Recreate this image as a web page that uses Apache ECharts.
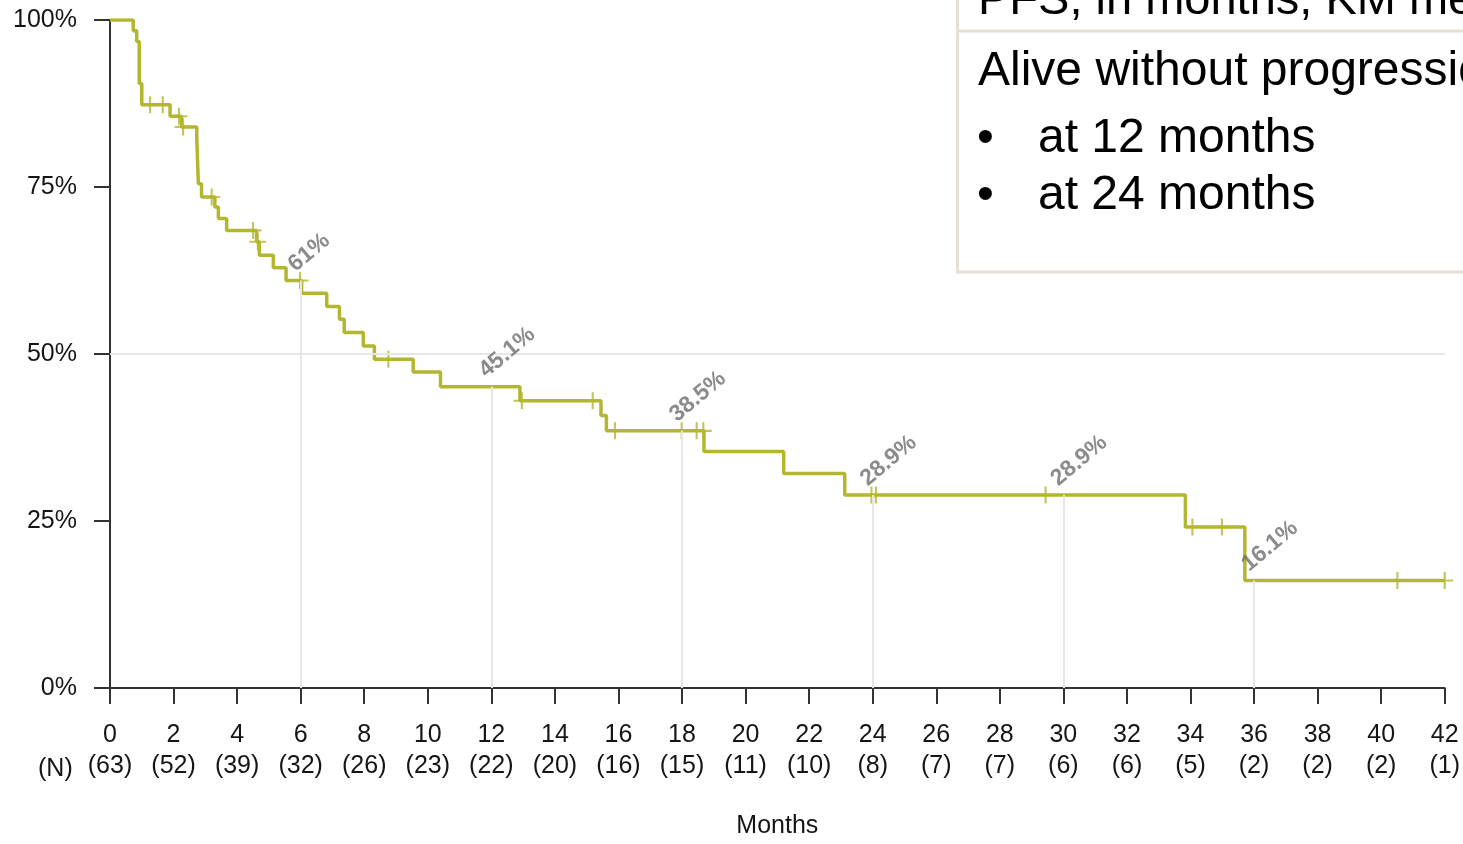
<!DOCTYPE html>
<html>
<head>
<meta charset="utf-8">
<script src="https://cdn.jsdelivr.net/npm/echarts@6/dist/echarts.min.js"></script>
<style>
  html, body { margin: 0; padding: 0; background: #fff; }
  #chart { width: 1463px; height: 844px; }
</style>
</head>
<body>
<div id="chart"></div>
<script>
// Kaplan–Meier estimate of progression-free survival (% alive without progression)
// Event times in months and the survival level right after each event
const eventTimes = [0, 0.73, 0.84, 0.92, 1.0, 1.89, 2.25, 2.73, 2.78, 2.88,
  3.3, 3.41, 3.67, 4.61, 4.70, 5.14, 5.54, 6.03, 6.82, 7.22,
  7.37, 7.97, 8.32, 9.54, 10.40, 12.90, 15.45, 15.62, 18.69, 21.20,
  23.12, 33.84, 35.71, 42];
const survival = [100, 98.4, 96.8, 90.5, 87.3, 85.6, 84.0, 82.2, 75.5, 73.5,
  72.0, 70.3, 68.5, 66.8, 64.8, 62.9, 61.0, 59.1, 57.1, 55.2,
  53.2, 51.2, 49.2, 47.3, 45.1, 43.0, 40.8, 38.5, 35.4, 32.1,
  28.9, 24.1, 16.1, 16.1];

// Censored observations (tick marks on the curve)
const censorTimes = [1.26, 1.66, 2.17, 2.30, 3.20, 4.50, 4.65, 5.98, 8.76, 12.96,
  15.19, 15.89, 17.99, 18.46, 18.67, 23.96, 24.10, 29.44, 34.06, 34.99, 40.51, 42.0];
const censorValues = [87.3, 87.3, 85.6, 84.0, 73.5, 68.5, 66.8, 61.0, 49.2, 43.0,
  43.0, 38.5, 38.5, 38.5, 38.5, 28.9, 28.9, 28.9, 24.1, 24.1, 16.1, 16.1];

// Landmark estimates
const landmarkMonths = [6, 12, 18, 24, 30, 36];
const landmarkValues = [61, 45.1, 38.5, 28.9, 28.9, 16.1];

// Number at risk at each x tick (0, 2, ..., 42)
const atRisk = [63, 52, 39, 32, 26, 23, 22, 20, 16, 15, 11, 10, 8, 7, 7, 6, 6, 5, 2, 2, 2, 1];

const FONT = '"Liberation Sans", Arial, sans-serif';
const OLIVE = '#b3b630';
const AXIS = '#333333';
const TEXT = '#151515';
const GUIDE = '#e6e6e6';
const BOX = '#e6e0d4';

const curve = eventTimes.map((t, i) => [t, survival[i]]);
const censors = censorTimes.map((t, i) => [t, censorValues[i]]);
const landmarks = landmarkMonths.map((m, i) => [m, landmarkValues[i]]);

const guideLines = [{ yAxis: 50 }].concat(
  landmarks.map(p => [{ coord: [p[0], 0] }, { coord: [p[0], p[1]] }])
);

const chart = echarts.init(document.getElementById('chart'), null, { renderer: 'canvas' });

chart.setOption({
  animation: false,
  textStyle: { fontFamily: FONT },
  grid: { left: 110, right: 18, top: 20, bottom: 151, containLabel: false },
  xAxis: {
    type: 'value',
    min: 0,
    max: 42,
    interval: 2,
    name: 'Months',
    nameLocation: 'middle',
    nameGap: 126,
    nameTextStyle: { fontSize: 25, color: TEXT, fontFamily: FONT },
    axisLine: { onZero: false, lineStyle: { color: AXIS, width: 2 } },
    axisTick: { length: 16, lineStyle: { color: AXIS, width: 2 } },
    axisLabel: {
      margin: 32,
      fontSize: 25,
      lineHeight: 31,
      color: TEXT,
      fontFamily: FONT,
      showMinLabel: true,
      showMaxLabel: true,
      formatter: v => v + '\n(' + atRisk[Math.round(v / 2)] + ')'
    },
    splitLine: { show: false }
  },
  yAxis: {
    type: 'value',
    min: 0,
    max: 100,
    interval: 25,
    axisLine: { show: true, lineStyle: { color: AXIS, width: 2 } },
    axisTick: { show: true, length: 16, lineStyle: { color: AXIS, width: 2 } },
    axisLabel: { margin: 33, fontSize: 25, color: TEXT, fontFamily: FONT, formatter: '{value}%' },
    splitLine: { show: false }
  },
  series: [
    {
      // guide lines: 50% reference and landmark drop lines
      type: 'scatter',
      data: landmarks,
      symbolSize: 0,
      z: 1,
      silent: true,
      markLine: {
        silent: true,
        symbol: ['none', 'none'],
        label: { show: false },
        lineStyle: { color: GUIDE, width: 2, type: 'solid' },
        data: guideLines
      }
    },
    {
      type: 'line',
      data: curve,
      step: 'end',
      showSymbol: false,
      symbol: 'none',
      lineStyle: { color: OLIVE, width: 3.5 },
      z: 3
    },
    {
      type: 'scatter',
      data: censors,
      symbol: 'path://M7,0L9,0L9,16L7,16Z M0,7L16,7L16,9L0,9Z',
      symbolSize: 17,
      itemStyle: { color: OLIVE },
      z: 4
    },
    {
      type: 'scatter',
      data: landmarks,
      symbolSize: 1,
      itemStyle: { color: 'rgba(0,0,0,0)' },
      z: 5,
      label: {
        show: true,
        position: 'inside',
        formatter: p => p.value[1] + '%',
        rotate: 40,
        align: 'left',
        verticalAlign: 'middle',
        offset: [1.5, -16],
        fontSize: 23,
        fontWeight: 'bold',
        color: '#6e6e6e',
        fontFamily: FONT
      }
    }
  ],
  graphic: [
    {
      type: 'text',
      left: 38,
      top: 757,
      style: { text: '(N)', font: '25px ' + FONT, fill: TEXT }
    },
    {
      type: 'group',
      z: 100,
      children: [
        {
          type: 'rect',
          shape: { x: 957.5, y: -10, width: 520, height: 282 },
          style: { fill: '#fff', stroke: BOX, lineWidth: 3 }
        },
        {
          type: 'line',
          shape: { x1: 957, y1: 31, x2: 1470, y2: 31 },
          style: { stroke: BOX, lineWidth: 3 }
        },
        {
          type: 'text',
          x: 978, y: 1,
          style: { text: 'PFS, in months, KM median', font: '47px ' + FONT, fill: '#000',
                   textVerticalAlign: 'middle', verticalAlign: 'middle' }
        },
        {
          type: 'text',
          x: 978, y: 72,
          style: { text: 'Alive without progression', font: '48px ' + FONT, fill: '#000',
                   textVerticalAlign: 'middle', verticalAlign: 'middle' }
        },
        {
          type: 'text',
          x: 977, y: 139,
          style: { text: '•', font: '48px ' + FONT, fill: '#000',
                   textVerticalAlign: 'middle', verticalAlign: 'middle' }
        },
        {
          type: 'text',
          x: 1038, y: 139,
          style: { text: 'at 12 months', font: '48px ' + FONT, fill: '#000',
                   textVerticalAlign: 'middle', verticalAlign: 'middle' }
        },
        {
          type: 'text',
          x: 977, y: 196,
          style: { text: '•', font: '48px ' + FONT, fill: '#000',
                   textVerticalAlign: 'middle', verticalAlign: 'middle' }
        },
        {
          type: 'text',
          x: 1038, y: 196,
          style: { text: 'at 24 months', font: '48px ' + FONT, fill: '#000',
                   textVerticalAlign: 'middle', verticalAlign: 'middle' }
        }
      ]
    }
  ]
});
</script>
</body>
</html>
